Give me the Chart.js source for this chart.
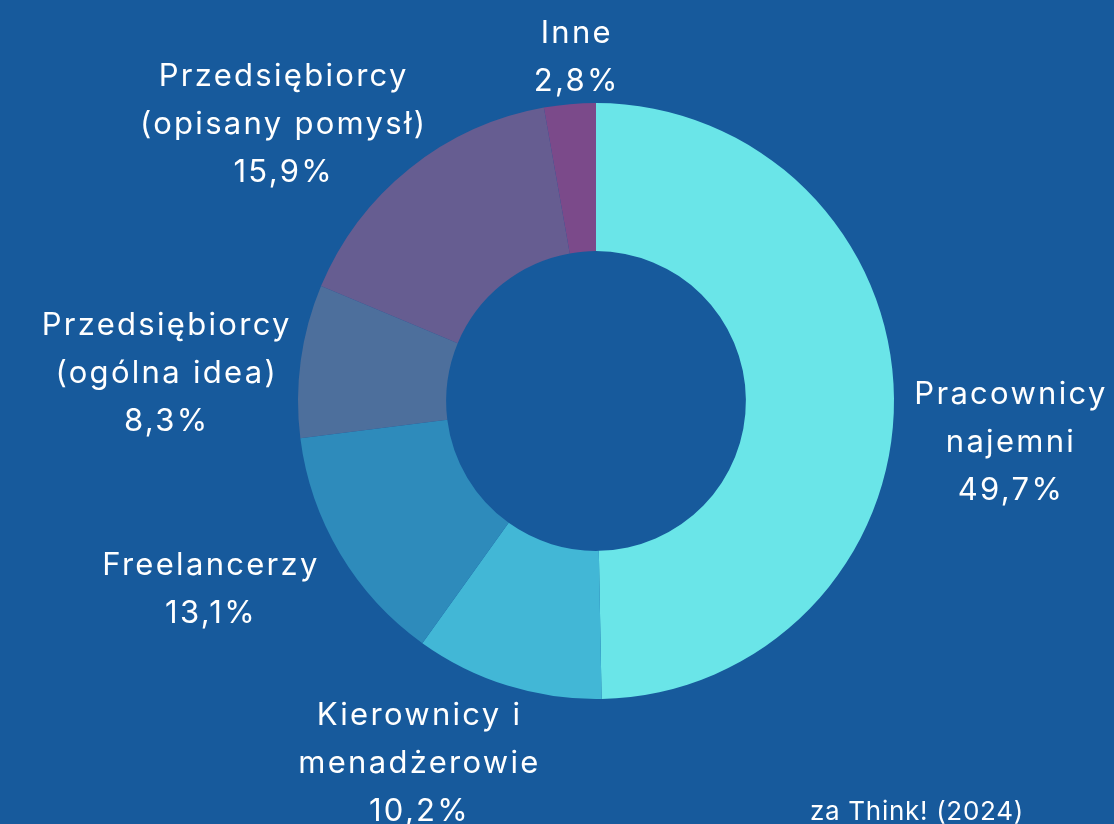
<!DOCTYPE html>
<html lang="pl">
<head>
<meta charset="utf-8">
<title>Struktura respondentów</title>
<script src="https://cdn.jsdelivr.net/npm/chart.js@4.4.1/dist/chart.umd.min.js"></script>
<style>
  html, body { margin: 0; padding: 0; background: #175a9c; }
  #wrap { position: relative; width: 1114px; height: 824px; overflow: hidden; }
  #source { position: absolute; left: 810px; top: 795px; color: #fff; font: 26px 'Inter', sans-serif; letter-spacing: 0.7px; white-space: nowrap; }
</style>
</head>
<body>
<div id="wrap">
  <canvas id="donut" width="1114" height="824"></canvas>
  <div id="source">za Think! (2024)</div>
</div>
<script>
// Data
const categories = [
  ['Pracownicy', 'najemni'],
  ['Kierownicy i', 'menadżerowie'],
  ['Freelancerzy'],
  ['Przedsiębiorcy', '(ogólna idea)'],
  ['Przedsiębiorcy', '(opisany pomysł)'],
  ['Inne']
];
const shares = [49.7, 10.2, 13.1, 8.3, 15.9, 2.8];
const sliceColors = ['#6ae5e8', '#42b7d6', '#2e8bbb', '#4d6f9c', '#665d91', '#7b4a8a'];

// Nudge of each label block away from the middle of its arc's outer edge
const labelNudge = [[116, 44], [-89, 78], [-130, 36], [-135, 13], [-127, -44], [6, -46]];

const outsideLabels = {
  id: 'outsideLabels',
  afterDatasetsDraw(chart) {
    const ctx = chart.ctx;
    const meta = chart.getDatasetMeta(0);
    ctx.save();
    ctx.fillStyle = '#ffffff';
    ctx.font = '31px Inter, sans-serif';
    ctx.letterSpacing = '2.3px';
    ctx.textAlign = 'center';
    ctx.textBaseline = 'middle';
    const lineH = 48;
    meta.data.forEach((arc, i) => {
      const mid = (arc.startAngle + arc.endAngle) / 2;
      const ax = arc.x + Math.cos(mid) * arc.outerRadius + labelNudge[i][0];
      const ay = arc.y + Math.sin(mid) * arc.outerRadius + labelNudge[i][1];
      const lines = categories[i].concat([shares[i].toFixed(1).replace('.', ',') + '%']);
      const top = ay - (lines.length - 1) * lineH / 2;
      lines.forEach((t, k) => ctx.fillText(t, ax + 1, top + k * lineH));
    });
    ctx.restore();
  }
};

document.addEventListener('DOMContentLoaded', function() {
  const ctx = document.getElementById('donut').getContext('2d');
  new Chart(ctx, {
    type: 'doughnut',
    data: {
      labels: categories.map(c => c.join(' ')),
      datasets: [{
        data: shares,
        backgroundColor: sliceColors,
        borderWidth: 0,
        hoverOffset: 0
      }]
    },
    options: {
      responsive: false,
      animation: false,
      cutout: '50.3%',
      layout: { padding: { left: 298, right: 220, top: 103, bottom: 125 } },
      plugins: {
        legend: { display: false },
        tooltip: { enabled: false }
      }
    },
    plugins: [outsideLabels]
  });
});
</script>
</body>
</html>
